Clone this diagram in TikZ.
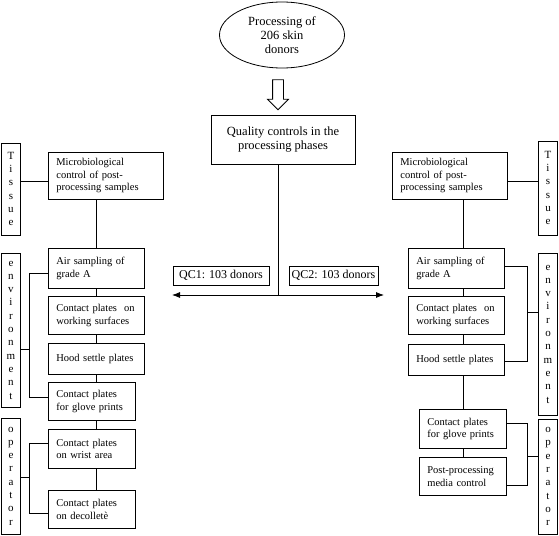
\documentclass[tikz,border=0pt]{standalone}
\usepackage{fontspec}
\setmainfont{Liberation Serif}
\usetikzlibrary{arrows,arrows.meta,shapes,positioning}
\tikzset{
    component/.style={
    rectangle,draw=black,align=left,inner xsep=8pt,inner ysep=2pt,anchor=north west,
    font=\fontsize{10.5}{12.5}\selectfont
    },
    widecp/.style={
    component,minimum width=115pt,text width=99pt
    },
    midcp/.style={
    component,minimum width=96pt,text width=80pt
    },
    smallcp/.style={
    component,minimum width=87pt,text width=71pt
    },
    sidecp/.style={
    rectangle,draw=black,align=center,inner sep=0pt,minimum width=19pt,
    font=\fontsize{11}{13.3}\selectfont
    },
    topcp/.style={
    draw=black,align=center,font=\fontsize{12.5}{14}\selectfont
    },
    qccp/.style={
    rectangle,draw=black,inner sep=0pt,minimum height=19pt,font=\fontsize{12}{14}\selectfont
    },
    split/.style={
    {Latex[length=8pt,width=6pt]}-{Latex[length=8pt,width=6pt]}
    },
}

\begin{document}
\begin{tikzpicture}[x=1pt, y=-1pt, line width=0.8pt]
   \useasboundingbox (0,0) rectangle (559,535);
   \node[topcp,ellipse,minimum width=125pt,minimum height=66pt,inner sep=0pt] (DONORS) at (282,35) {Processing of\\206 skin\\donors};
   \node[draw=black,single arrow,shape border rotate=270,inner sep=5pt,minimum height=30pt,single arrow head extend=5pt] (DOWN) at (278,92) {};
   \node[topcp,minimum width=144pt,minimum height=49pt] (QC) at (283,139.5) {Quality controls in the\\processing phases};
   \node[qccp,minimum width=96pt] (QC1) at (221,275.5) {QC1: 103 donors};
   \node[qccp,minimum width=89pt] (QC2) at (333.5,275.5) {QC2: 103 donors};
   \coordinate (SPLIT) at (278,295);
   \coordinate (LEND) at (172,295);
   \coordinate (REND) at (384,295);

   \node[widecp,minimum height=47pt] (MBL) at (48,152) {Microbiological\\control of post-\\processing samples};
   \node[midcp,minimum height=40pt] (AIRL) at (48,248) {Air sampling of\\grade A};
   \node[midcp,minimum height=38pt] (WSL) at (48,296) {Contact plates\ \ on\\working surfaces};
   \node[midcp,minimum height=31pt] (HSL) at (48,343) {Hood settle plates};
   \node[smallcp,minimum height=38pt] (GPL) at (48,382) {Contact plates\\for glove prints};
   \node[smallcp,minimum height=39pt] (WAL) at (48,429) {Contact plates\\on wrist area};
   \node[smallcp,minimum height=38pt] (DCL) at (48,490) {Contact plates\\on decollet\`e};
   \node[sidecp,minimum height=92pt] (TISL) at (11,189) {T\\i\\s\\s\\u\\e};
   \node[sidecp,minimum height=154pt] (ENVL) at (11,330) {e\\n\\v\\i\\r\\o\\n\\m\\e\\n\\t};
   \node[sidecp,minimum height=116pt] (OPL) at (11,476) {o\\p\\e\\r\\a\\t\\o\\r};
   \coordinate (EBL) at (29,349);
   \coordinate (OBL) at (29,477);

   \node[widecp,minimum height=47pt] (MBR) at (392,152) {Microbiological\\control of post-\\processing samples};
   \node[midcp,minimum height=40pt] (AIRR) at (408,248) {Air sampling of\\grade A};
   \node[midcp,minimum height=38pt] (WSR) at (408,296) {Contact plates\ \ on\\working surfaces};
   \node[midcp,minimum height=31pt] (HSR) at (408,344) {Hood settle plates};
   \node[smallcp,minimum height=39pt] (GPR) at (419,409) {Contact plates\\for glove prints};
   \node[smallcp,minimum height=38pt] (PPR) at (419,457) {Post-processing\\media control};
   \node[sidecp,minimum height=94pt] (TISR) at (548,188) {T\\i\\s\\s\\u\\e};
   \node[sidecp,minimum height=162pt] (ENVR) at (548,334) {e\\n\\v\\i\\r\\o\\n\\m\\e\\n\\t};
   \node[sidecp,minimum height=115pt] (OPR) at (548,476.5) {o\\p\\e\\r\\a\\t\\o\\r};
   \coordinate (EBR) at (527,312);
   \coordinate (OBR) at (527,456);

   \draw (QC.south -| SPLIT) -- (SPLIT);
   \draw[split] (LEND) -- (REND);

   \draw ([yshift=-5.5pt]MBL.west) -- ([yshift=-5.5pt]MBL.west -| TISL.east);
   \draw (AIRL.north) -- (AIRL.north |- MBL.south);
   \path (AIRL) edge (WSL)
         (WSL)  edge (HSL);
   \draw (HSL.south) -- (HSL.south |- GPL.north);
   \draw (GPL.south -| HSL.south) -- (WAL.north -| HSL.south);
   \draw (WAL.south -| HSL.south) -- (DCL.north -| HSL.south);
   \draw ([yshift=-5pt]AIRL.west) -| (EBL);
   \draw ([yshift=4pt]GPL.west) -| (EBL);
   \draw (ENVL.east |- EBL) -- (EBL);
   \draw ([yshift=5.5pt]WAL.west) -| (OBL);
   \draw ([yshift=-4pt]DCL.west) -| (OBL);
   \draw (OPL.east |- OBL) -- (OBL);

   \draw ([yshift=-5.5pt]MBR.east) -- ([yshift=-5.5pt]MBR.east -| TISR.west);
   \draw (MBR.south -| GPR.north) -- (AIRR.north -| GPR.north);
   \draw (AIRR.south -| GPR.north) -- (WSR.north -| GPR.north);
   \draw (WSR.south -| GPR.north) -- (HSR.north -| GPR.north);
   \draw (HSR.south -| GPR.north) -- (GPR.north);
   \path (GPR) edge (PPR);
   \draw ([yshift=2pt]AIRR.east) -| (EBR);
   \draw ([yshift=-1.5pt]HSR.east) -| (EBR);
   \draw (EBR) -- (EBR -| ENVR.west);
   \draw ([yshift=5.5pt]GPR.east) -| (OBR);
   \draw ([yshift=-9pt]PPR.east) -| (OBR);
   \draw (OBR) -- (OBR -| OPR.west);
\end{tikzpicture}
\end{document}
